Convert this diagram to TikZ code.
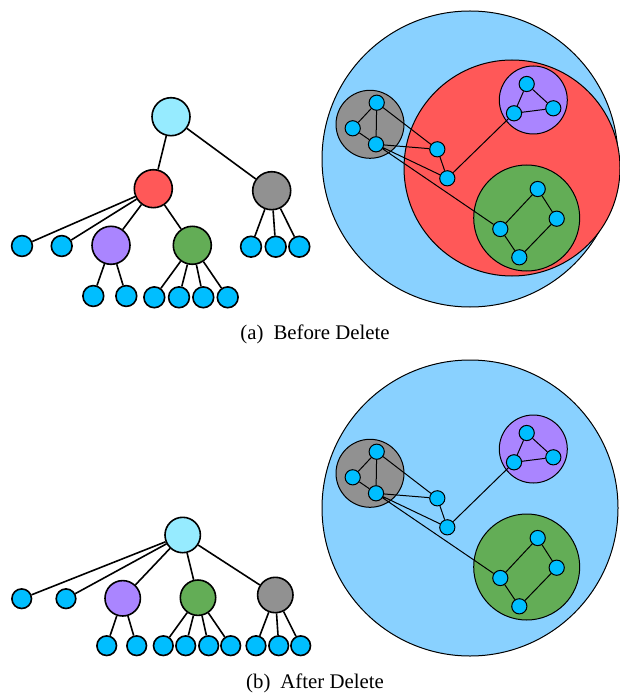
\documentclass[tikz,border=0pt]{standalone}
\usepackage{fontspec}
\setmainfont{Liberation Serif}
\usepackage{tikz}
\definecolor{rootblue}{RGB}{150,235,255}
\definecolor{leafblue}{RGB}{0,190,255}
\definecolor{setblue}{RGB}{137,209,255}
\definecolor{setred}{RGB}{255,88,88}
\definecolor{setgray}{RGB}{145,145,145}
\definecolor{setpurple}{RGB}{170,133,255}
\definecolor{setgreen}{RGB}{99,173,86}
\tikzset{
  x=0.5pt, y=-0.5pt,
  tree/.style={circle, draw, line width=0.8pt, inner sep=0pt, minimum size=19pt},
  leaf/.style={circle, draw, line width=0.8pt, inner sep=0pt, minimum size=10.4pt, fill=leafblue},
  tedge/.style={line width=0.8pt},
  cluster/.style={circle, draw, line width=0.5pt, inner sep=0pt},
  vtx/.style={circle, draw, line width=0.5pt, inner sep=0pt, minimum size=7.6pt, fill=leafblue},
  gedge/.style={line width=0.5pt},
  caption/.style={font=\fontsize{10.4}{12}\selectfont},
}

\begin{document}
\begin{tikzpicture}
  \useasboundingbox (0,0) rectangle (620,695);

  % (a) tree before delete
  \node[tree, fill=rootblue]   (r0) at (171,116.7) {};
  \node[tree, fill=setred]     (r1) at (153.3,188.7) {};
  \node[tree, fill=setgray]    (r2) at (271.7,190.7) {};
  \node[tree, fill=setpurple]  (r3) at (111,245.3) {};
  \node[tree, fill=setgreen]   (r4) at (192.3,245.3) {};
  \node[leaf] (l1) at (22,246) {};
  \node[leaf] (l2) at (61.7,246) {};
  \node[leaf] (l3) at (93.3,296) {};
  \node[leaf] (l4) at (126.3,296) {};
  \node[leaf] (l5) at (154.3,297.3) {};
  \node[leaf] (l6) at (179,297.3) {};
  \node[leaf] (l7) at (203.3,297.3) {};
  \node[leaf] (l8) at (227.7,297.3) {};
  \node[leaf] (l9) at (251,246.7) {};
  \node[leaf] (l10) at (275.7,246.7) {};
  \node[leaf] (l11) at (299.3,246.7) {};

  \draw[tedge] (r0) -- (r1)  (r0) -- (r2)
               (r1) -- (l1)  (r1) -- (l2)  (r1) -- (r3)  (r1) -- (r4)
               (r3) -- (l3)  (r3) -- (l4)
               (r4) -- (l5)  (r4) -- (l6)  (r4) -- (l7)  (r4) -- (l8)
               (r2) -- (l9)  (r2) -- (l10) (r2) -- (l11);

  % (a) sets before delete
  \node[cluster, fill=setblue,   minimum size=148pt] (A) at (470,159) {};
  \node[cluster, fill=setred,    minimum size=108pt] (B) at (512,168) {};
  \node[cluster, fill=setgray,   minimum size=34pt]  (C) at (370,124.3) {};
  \node[cluster, fill=setpurple, minimum size=34pt]  (D) at (533.3,100) {};
  \node[cluster, fill=setgreen,  minimum size=53pt]  (E) at (526.7,218) {};

  \node[vtx] (a) at (376.7,102.7) {};
  \node[vtx] (b) at (352.7,128.3) {};
  \node[vtx] (c) at (376,144.3) {};
  \node[vtx] (m1) at (437.3,149.3) {};
  \node[vtx] (m2) at (447.3,178.3) {};
  \node[vtx] (p1) at (526.7,84) {};
  \node[vtx] (p2) at (514,113.3) {};
  \node[vtx] (p3) at (553.3,108.3) {};
  \node[vtx] (g1) at (537.7,189) {};
  \node[vtx] (g2) at (556.7,218.7) {};
  \node[vtx] (g3) at (519.3,257.3) {};
  \node[vtx] (g4) at (500.3,229) {};

  \draw[gedge] (a) -- (b)  (a) -- (c)  (b) -- (c)
               (a) -- (m1) (c) -- (m1) (c) -- (m2) (c) -- (g4)
               (m1) -- (m2) (m2) -- (p2)
               (p1) -- (p2) (p1) -- (p3) (p2) -- (p3)
               (g4) -- (g1) (g1) -- (g2) (g2) -- (g3) (g3) -- (g4);

  \node[caption] (capa) at (315,334) {(a)\hspace{5pt}Before Delete};

  % (b) tree after delete
  \begin{scope}[tree/.append style={minimum size=17.7pt},
                leaf/.append style={minimum size=9.8pt}]
    \node[tree, fill=rootblue]   (s0) at (182.7,535) {};
    \node[tree, fill=setpurple]  (s1) at (122.7,598.3) {};
    \node[tree, fill=setgreen]   (s2) at (198,597.7) {};
    \node[tree, fill=setgray]    (s3) at (275.3,595) {};
    \node[leaf] (k1) at (21.7,598.7) {};
    \node[leaf] (k2) at (66,598.7) {};
    \node[leaf] (k3) at (106.7,645.7) {};
    \node[leaf] (k4) at (136.7,645.7) {};
    \node[leaf] (k5) at (163.3,645.7) {};
    \node[leaf] (k6) at (185.7,645.7) {};
    \node[leaf] (k7) at (208.7,645.7) {};
    \node[leaf] (k8) at (230.7,645.7) {};
    \node[leaf] (k9) at (256,645.7) {};
    \node[leaf] (k10) at (278.7,645.7) {};
    \node[leaf] (k11) at (300.7,645.7) {};
  \end{scope}

  \draw[tedge] (s0) -- (k1)  (s0) -- (k2)  (s0) -- (s1)  (s0) -- (s2)  (s0) -- (s3)
               (s1) -- (k3)  (s1) -- (k4)
               (s2) -- (k5)  (s2) -- (k6)  (s2) -- (k7)  (s2) -- (k8)
               (s3) -- (k9)  (s3) -- (k10) (s3) -- (k11);

  % (b) sets after delete
  \begin{scope}[shift={(0,349)}]
    \node[cluster, fill=setblue,   minimum size=148pt] (A') at (470,159) {};
    \node[cluster, fill=setgray,   minimum size=34pt]  (C') at (370,124.3) {};
    \node[cluster, fill=setpurple, minimum size=34pt]  (D') at (533.3,100) {};
    \node[cluster, fill=setgreen,  minimum size=53pt]  (E') at (526.7,218) {};

    \node[vtx] (a') at (376.7,102.7) {};
    \node[vtx] (b') at (352.7,128.3) {};
    \node[vtx] (c') at (376,144.3) {};
    \node[vtx] (m1') at (437.3,149.3) {};
    \node[vtx] (m2') at (447.3,178.3) {};
    \node[vtx] (p1') at (526.7,84) {};
    \node[vtx] (p2') at (514,113.3) {};
    \node[vtx] (p3') at (553.3,108.3) {};
    \node[vtx] (g1') at (537.7,189) {};
    \node[vtx] (g2') at (556.7,218.7) {};
    \node[vtx] (g3') at (519.3,257.3) {};
    \node[vtx] (g4') at (500.3,229) {};
  \end{scope}

  \draw[gedge] (a') -- (b')  (a') -- (c')  (b') -- (c')
               (a') -- (m1') (c') -- (m1') (c') -- (m2') (c') -- (g4')
               (m1') -- (m2') (m2') -- (p2')
               (p1') -- (p2') (p1') -- (p3') (p2') -- (p3')
               (g4') -- (g1') (g1') -- (g2') (g2') -- (g3') (g3') -- (g4');

  \node[caption] (capb) at (315,683) {(b)\hspace{5pt}After Delete};
\end{tikzpicture}
\end{document}
